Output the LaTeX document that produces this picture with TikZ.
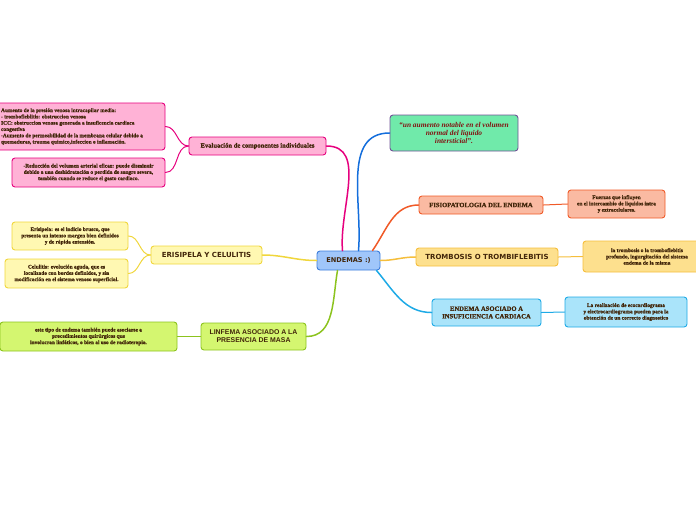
\documentclass[tikz,border=0pt]{standalone}
\usepackage{fontspec}
\setmainfont{Liberation Serif}[BoldFeatures={FakeBold=1.2}]
\newfontfamily\vsans{DejaVu Sans}
\newfontfamily\asans{Liberation Sans}
\usetikzlibrary{positioning}
\definecolor{mmink}{RGB}{66,38,10}
\definecolor{mmred}{RGB}{130,18,18}
\definecolor{mmrootf}{RGB}{160,198,250}
\definecolor{mmrootd}{RGB}{60,125,220}
\definecolor{mmgreenf}{RGB}{112,234,170}
\definecolor{mmgreend}{RGB}{112,82,150}
\definecolor{mmpinkf}{RGB}{255,178,214}
\definecolor{mmpinkd}{RGB}{230,0,126}
\definecolor{mmyelf}{RGB}{255,248,178}
\definecolor{mmyeld}{RGB}{240,214,60}
\definecolor{mmlimef}{RGB}{212,246,112}
\definecolor{mmlimed}{RGB}{140,195,30}
\definecolor{mmsalf}{RGB}{250,186,162}
\definecolor{mmsald}{RGB}{240,90,40}
\definecolor{mmgoldf}{RGB}{253,224,142}
\definecolor{mmgoldd}{RGB}{245,190,60}
\definecolor{mmcyanf}{RGB}{170,228,250}
\definecolor{mmcyand}{RGB}{30,170,230}
\definecolor{mmblue}{RGB}{20,110,220}
\tikzset{
  mmbox/.style={
    rounded corners=3pt, line width=0.9pt, align=center,
    inner sep=1pt, text=mmink
  },
  small/.style={font=\fontsize{5.4}{6.3}\selectfont\bfseries},
  head/.style={font=\fontsize{6.6}{7.6}\selectfont\bfseries},
  vhead/.style={font=\vsans\fontsize{7}{8}\selectfont\bfseries},
  ahead/.style={font=\asans\fontsize{6.9}{8}\selectfont\bfseries},
  rootn/.style={mmbox, fill=mmrootf, draw=mmrootd,
    font=\vsans\fontsize{6.6}{8}\selectfont\bfseries},
  greenn/.style={mmbox, fill=mmgreenf, draw=mmgreend, text=mmred,
    font=\fontsize{7.4}{8.2}\selectfont\bfseries\itshape},
  pinkn/.style={mmbox, fill=mmpinkf, draw=mmpinkd},
  yeln/.style={mmbox, fill=mmyelf, draw=mmyeld},
  limen/.style={mmbox, fill=mmlimef, draw=mmlimed},
  saln/.style={mmbox, fill=mmsalf, draw=mmsald},
  goldn/.style={mmbox, fill=mmgoldf, draw=mmgoldd},
  cyann/.style={mmbox, fill=mmcyanf, draw=mmcyand},
  branch/.style={line width=1.5pt, line cap=round},
  twig/.style={line width=1pt, line cap=round}
}
\begin{document}
\begin{tikzpicture}[x=1pt,y=-1pt]
  \useasboundingbox (0,0) rectangle (696,520);
  % central topic
  \node[rootn, minimum width=63pt, minimum height=19pt] (root) at (348.5,260.5) {ENDEMAS :)};
  % main topics
  \node[greenn, minimum width=128pt, minimum height=36pt] (defin) at (454,133)
    {``un aumento notable en el volumen\\normal del liquido\\intersticial''.};
  \node[pinkn, head, minimum width=137pt, minimum height=18pt] (evalu) at (257.5,146)
    {Evaluación de componentes individuales};
  \node[saln, head, minimum width=124pt, minimum height=18pt] (fisio) at (481,205)
    {FISIOPATOLOGIA DEL ENDEMA};
  \node[goldn, vhead, minimum width=142pt, minimum height=18pt] (tromb) at (487,257)
    {TROMBOSIS O TROMBIFLEBITIS};
  \node[cyann, head, minimum width=109pt, minimum height=27pt] (insuf) at (486.5,312.5)
    {ENDEMA ASOCIADO A\\INSUFICIENCIA CARDIACA};
  \node[yeln, vhead, minimum width=111pt, minimum height=18pt] (erisi) at (206.5,255)
    {ERISIPELA Y CELULITIS};
  \node[limen, ahead, minimum width=105pt, minimum height=27pt] (linfe) at (253.5,336.5)
    {LINFEMA ASOCIADO A LA\\PRESENCIA DE MASA};
  % sub topics
  \node[pinkn, small, align=left, minimum width=186pt, minimum height=47pt] (presi) at (72,126.5)
    {Aumento de la presión venosa intracapilar media:\\
     - trombofleblitis: obstruccion venosa\\
     ICC: obstruccion venosa generada a insuficencia cardiaca\\
     congestiva\\
     -Aumento de permeabilidad de la membrana celular debido a\\
     quemaduras, trauma quimico,infeccion o inflamación.};
  \node[pinkn, small, minimum width=153pt, minimum height=29pt] (reduc) at (88.5,172.5)
    {-Reducción del volumen arterial eficaz: puede  disminuir\\
     debido a una deshidratación o perdida de sangre severa,\\
     también cuando se reduce el gasto cardiaco.};
  \node[saln, small, minimum width=97pt, minimum height=28pt] (fuerz) at (616.5,204)
    {Fuerzas que influyen\\en el intercambio de liquidos intra\\y extracelulares.};
  \node[goldn, small, minimum width=128pt, minimum height=31pt] (trdes) at (647,256.5)
    {la trombosis o la tromboflebitis\\
     profundo, ingurgitación del sistema\\
     endema de la misma};
  \node[cyann, small, minimum width=122pt, minimum height=30pt] (ecoca) at (626,312)
    {La realización de ecocardiograma\\y electrocardiograma pueden para la\\obtención de un correcto diagnostico};
  \node[yeln, small, minimum width=116pt, minimum height=28pt] (erdes) at (70,236)
    {Erisipela: es el indicio brusco, que\\presenta un intenso margen bien definidos\\y de rápida extensión.};
  \node[yeln, small, minimum width=123pt, minimum height=29pt] (celul) at (66.5,273.5)
    {Celulitis: evolución aguda, que es\\localizado con bordes definidos, y sin\\modificación en el sistema venoso superficial.};
  \node[limen, small, minimum width=177pt, minimum height=29pt] (quiru) at (88.5,336.5)
    {este tipo de endema también puede asociarse a\\procedimientos quirúrgicos que\\involucran linfáticos, o bien al uso de radioterapia.};
  % branches from the centre
  \draw[branch, mmblue] ([xshift=10pt]root.north) to[out=85,in=180] (defin.west);
  \draw[branch, mmpinkd] ([xshift=-6pt]root.north) to[out=95,in=0] (evalu.east);
  \draw[branch, mmsald] ([xshift=24pt]root.north) to[out=55,in=180] (fisio.west);
  \draw[branch, mmgoldd] (root.east) to[out=0,in=180] (tromb.west);
  \draw[branch, mmcyand] ([xshift=28pt]root.south) to[out=-50,in=180] (insuf.west);
  \draw[branch, mmyeld] (root.west) to[out=180,in=0] (erisi.east);
  \draw[branch, mmlimed] ([xshift=-11pt]root.south) to[out=-100,in=0] (linfe.east);
  % twigs
  \draw[twig, mmpinkd] (evalu.west) to[out=180,in=0] (presi.east);
  \draw[twig, mmpinkd] (evalu.west) to[out=180,in=0] (reduc.east);
  \draw[twig, mmsald] (fisio.east) -- (fuerz.west);
  \draw[twig, mmgoldd] (tromb.east) -- (trdes.west);
  \draw[twig, mmcyand] (insuf.east) -- (ecoca.west);
  \draw[twig, mmyeld] (erisi.west) to[out=180,in=0] (erdes.east);
  \draw[twig, mmyeld] (erisi.west) to[out=180,in=0] (celul.east);
  \draw[twig, mmlimed] (linfe.west) -- (quiru.east);
\end{tikzpicture}
\end{document}
